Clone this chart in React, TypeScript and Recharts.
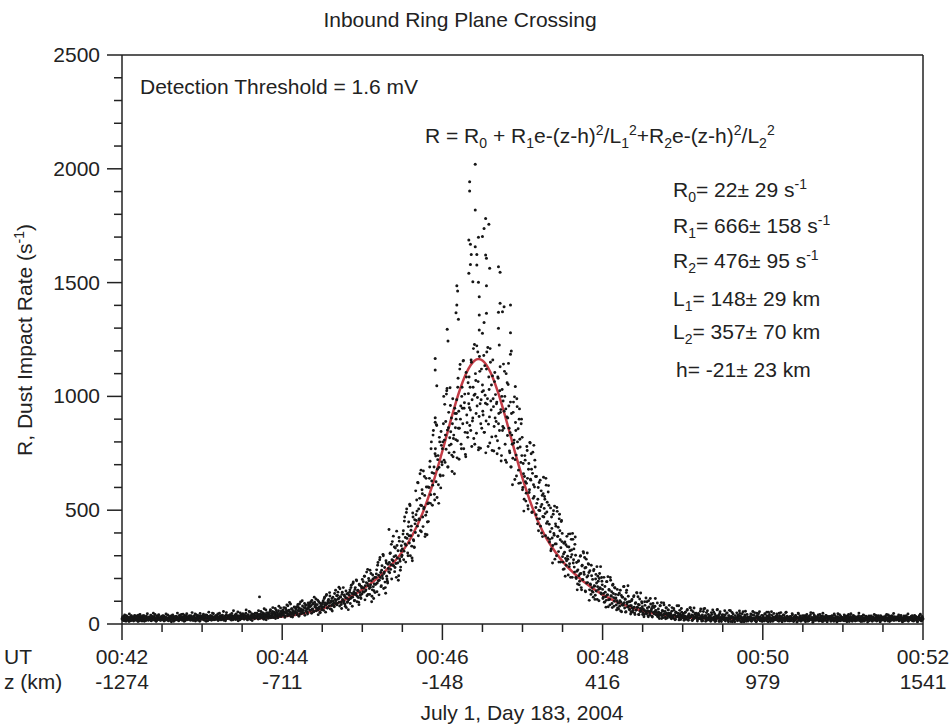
import { ComposedChart, Scatter, Line, XAxis, YAxis } from "recharts";

const FONT = '"Liberation Sans", Arial, Helvetica, sans-serif';
const INK = "#222";
const DOT = "#161616";
const FIT_RED = "#c43c46";

// UT in minutes after 00:00, rate samples every 0.5 s (second set sits 0.25 s later)
const startMinute = 42;
const samplesPerMinute = 120;

// impact rate (s^-1), one row = 10 s of samples
const rateRows: number[][] = [
  [22, 31, 15, 27, 40, 19, 12, 34, 25, 18, 29, 44, 21, 14, 36, 26, 17, 30, 23, 38],
  [28, 16, 35, 21, 11, 33, 25, 42, 19, 27, 13, 31, 24, 37, 20, 29, 15, 26, 45, 22],
  [18, 30, 24, 39, 14, 27, 21, 47, 33, 17, 26, 12, 35, 23, 29, 41, 19, 28, 16, 32],
  [25, 36, 20, 13, 31, 27, 44, 18, 24, 38, 15, 29, 22, 34, 10, 26, 40, 21, 30, 17],
  [33, 19, 27, 48, 23, 14, 36, 28, 21, 42, 17, 31, 25, 12, 38, 24, 29, 45, 20, 26],
  [21, 37, 28, 16, 32, 50, 24, 19, 35, 27, 13, 41, 23, 30, 18, 34, 26, 46, 22, 29],
  [30, 24, 43, 18, 35, 27, 12, 39, 25, 31, 52, 20, 28, 36, 16, 33, 23, 45, 27, 19],
  [26, 38, 21, 33, 15, 29, 47, 24, 36, 19, 31, 27, 55, 22, 34, 14, 40, 28, 25, 37],
  [34, 22, 41, 28, 17, 36, 30, 58, 25, 33, 20, 44, 29, 37, 14, 31, 26, 49, 35, 23],
  [29, 45, 33, 21, 38, 27, 62, 35, 18, 41, 31, 24, 52, 36, 28, 15, 43, 32, 39, 26],
  [37, 28, 48, 34, 22, 42, 119, 31, 55, 39, 26, 45, 33, 67, 29, 40, 19, 50, 36, 44],
  [41, 33, 57, 27, 46, 38, 72, 30, 52, 44, 24, 61, 36, 49, 31, 78, 43, 35, 55, 39],
  [45, 62, 38, 53, 29, 70, 48, 84, 36, 58, 42, 95, 51, 33, 66, 47, 56, 40, 75, 49],
  [52, 68, 41, 77, 58, 34, 88, 55, 64, 46, 102, 60, 50, 72, 38, 81, 57, 66, 44, 93],
  [84, 61, 77, 98, 47, 65, 90, 54, 118, 75, 86, 58, 71, 105, 41, 67, 93, 49, 80, 62],
  [74, 96, 60, 112, 83, 52, 125, 89, 70, 104, 93, 138, 66, 100, 81, 57, 118, 91, 76, 108],
  [148, 106, 84, 125, 110, 162, 79, 120, 96, 68, 140, 104, 92, 128, 88, 115, 72, 132, 98, 63],
  [108, 140, 90, 160, 118, 78, 178, 130, 102, 152, 134, 194, 98, 146, 116, 85, 170, 126, 112, 158],
  [196, 142, 158, 210, 106, 146, 182, 124, 240, 168, 190, 130, 162, 222, 98, 150, 198, 112, 176, 138],
  [175, 220, 142, 258, 190, 128, 282, 204, 164, 236, 212, 306, 156, 228, 184, 135, 268, 198, 180, 244],
  [415, 225, 312, 260, 198, 362, 278, 256, 338, 248, 300, 205, 345, 268, 192, 380, 286, 236, 322, 296],
  [330, 395, 282, 452, 352, 272, 490, 376, 312, 428, 388, 526, 300, 412, 342, 278, 470, 366, 336, 440],
  [585, 455, 496, 622, 388, 462, 552, 410, 676, 520, 572, 428, 506, 648, 384, 478, 602, 392, 528, 450],
  [600, 690, 530, 770, 628, 522, 830, 662, 570, 748, 738, 876, 556, 722, 612, 688, 800, 650, 846, 712],
  [770, 652, 1000, 808, 710, 890, 1010, 1035, 690, 862, 752, 818, 960, 790, 742, 880, 735, 830, 660, 925],
  [810, 925, 730, 1040, 860, 724, 1120, 900, 790, 1000, 948, 1155, 770, 972, 842, 735, 1085, 884, 820, 1012],
  [1085, 872, 940, 1160, 780, 892, 1040, 815, 1228, 1010, 1070, 838, 958, 1195, 765, 912, 1110, 772, 985, 860],
  [1050, 918, 1180, 842, 1005, 752, 1120, 965, 1215, 878, 1030, 795, 1150, 940, 822, 1090, 990, 760, 1065, 905],
  [825, 968, 748, 1085, 880, 772, 1025, 930, 716, 1000, 850, 980, 860, 1110, 790, 945, 710, 1060, 905, 1145],
  [860, 752, 975, 690, 830, 612, 930, 795, 998, 722, 850, 650, 955, 772, 676, 900, 812, 620, 880, 740],
  [590, 705, 496, 648, 720, 540, 618, 762, 520, 680, 578, 798, 636, 748, 490, 662, 552, 785, 602, 690],
  [512, 648, 462, 548, 410, 622, 498, 430, 585, 525, 384, 572, 470, 560, 485, 640, 442, 535, 378, 608],
  [438, 372, 510, 330, 420, 268, 482, 398, 518, 352, 430, 300, 495, 386, 318, 462, 410, 272, 450, 362],
  [296, 240, 355, 315, 210, 348, 278, 340, 285, 395, 252, 322, 205, 372, 305, 398, 268, 330, 228, 382],
  [205, 270, 150, 238, 278, 172, 220, 300, 160, 255, 196, 318, 228, 292, 145, 248, 180, 312, 212, 262],
  [104, 234, 172, 258, 145, 196, 118, 240, 166, 126, 218, 180, 108, 210, 152, 200, 160, 252, 132, 188],
  [152, 118, 205, 96, 140, 74, 186, 128, 208, 106, 148, 84, 192, 122, 90, 170, 134, 78, 160, 112],
  [114, 62, 152, 92, 66, 135, 102, 57, 125, 84, 118, 88, 165, 70, 108, 54, 148, 96, 168, 78],
  [64, 98, 44, 80, 108, 52, 70, 124, 48, 90, 60, 138, 74, 120, 42, 84, 55, 136, 66, 92],
  [42, 66, 32, 98, 58, 114, 46, 70, 36, 102, 55, 40, 88, 62, 34, 78, 50, 72, 52, 112],
  [58, 40, 92, 32, 52, 24, 80, 45, 94, 36, 56, 28, 84, 43, 30, 70, 48, 26, 62, 38],
  [82, 30, 46, 23, 72, 35, 25, 60, 40, 21, 52, 31, 48, 33, 80, 26, 44, 20, 68, 37],
  [27, 46, 16, 35, 52, 21, 30, 64, 19, 40, 26, 72, 32, 60, 17, 38, 22, 70, 28, 42],
  [48, 31, 13, 42, 24, 38, 25, 66, 20, 34, 14, 55, 29, 68, 23, 36, 16, 58, 27, 18],
  [23, 35, 12, 50, 27, 62, 18, 31, 44, 21, 14, 33, 64, 25, 39, 16, 54, 29, 11, 22],
  [41, 20, 31, 58, 13, 27, 47, 22, 17, 37, 60, 24, 11, 33, 51, 15, 29, 21, 10, 25],
  [26, 49, 14, 31, 21, 57, 35, 11, 24, 45, 19, 28, 10, 40, 56, 23, 16, 30, 13, 20],
  [18, 30, 44, 12, 25, 55, 22, 38, 15, 27, 10, 47, 34, 20, 29, 54, 14, 23, 19, 11],
  [37, 21, 13, 45, 28, 19, 52, 24, 10, 33, 42, 15, 26, 54, 20, 12, 29, 22, 18, 31],
  [24, 44, 17, 28, 12, 36, 21, 50, 32, 10, 25, 19, 40, 13, 27, 52, 22, 14, 30, 18],
  [20, 33, 14, 27, 45, 22, 11, 30, 18, 38, 25, 9, 29, 48, 16, 23, 35, 12, 26, 19],
  [28, 17, 36, 23, 10, 31, 42, 20, 26, 14, 33, 21, 50, 18, 27, 8, 24, 39, 15, 30],
  [16, 29, 22, 40, 13, 27, 19, 34, 24, 11, 47, 21, 30, 17, 25, 36, 12, 28, 20, 23],
  [33, 21, 12, 28, 37, 18, 25, 44, 15, 29, 22, 9, 32, 19, 26, 41, 14, 24, 30, 17],
  [19, 27, 40, 14, 23, 31, 10, 25, 36, 20, 28, 16, 45, 22, 12, 29, 18, 34, 24, 21],
  [25, 15, 30, 22, 48, 17, 26, 11, 33, 20, 27, 38, 13, 24, 19, 31, 23, 9, 28, 35],
  [22, 34, 18, 26, 12, 29, 21, 42, 16, 25, 30, 14, 23, 37, 19, 27, 10, 32, 20, 24],
  [30, 19, 24, 13, 35, 22, 27, 17, 40, 21, 11, 28, 25, 16, 33, 20, 46, 23, 18, 26],
  [17, 26, 32, 21, 14, 28, 23, 38, 19, 10, 27, 24, 31, 15, 22, 36, 20, 29, 12, 25],
  [24, 20, 29, 16, 37, 23, 13, 27, 21, 33, 18, 25, 11, 30, 22, 19, 43, 26, 15, 28],
];
const lastRate = 22;

// the quarter-second samples in between
const rateRowsQ: number[][] = [
  [26, 19, 33, 14, 28, 22, 37, 17, 24, 30, 11, 27, 20, 35, 16, 25, 31, 13, 29, 21],
  [23, 30, 17, 26, 39, 20, 14, 28, 33, 22, 18, 36, 25, 12, 29, 21, 34, 19, 27, 16],
  [31, 20, 27, 15, 34, 24, 18, 29, 22, 42, 26, 13, 30, 19, 37, 23, 28, 16, 25, 33],
  [19, 28, 35, 23, 16, 30, 21, 26, 40, 14, 27, 32, 18, 24, 36, 20, 29, 12, 31, 22],
  [27, 34, 20, 29, 16, 25, 39, 22, 31, 18, 26, 43, 21, 30, 14, 28, 35, 19, 24, 32],
  [30, 18, 26, 36, 22, 28, 15, 33, 20, 44, 25, 29, 17, 38, 24, 31, 12, 27, 35, 21],
  [22, 35, 28, 17, 31, 40, 24, 29, 14, 33, 26, 20, 37, 23, 30, 48, 19, 27, 32, 25],
  [33, 24, 30, 44, 20, 27, 35, 18, 29, 23, 39, 26, 16, 32, 28, 21, 50, 25, 34, 30],
  [27, 38, 23, 31, 46, 26, 19, 34, 29, 40, 24, 32, 21, 53, 28, 35, 18, 30, 42, 25],
  [36, 28, 41, 24, 33, 47, 30, 22, 38, 27, 55, 31, 20, 35, 44, 26, 33, 39, 23, 48],
  [31, 46, 26, 39, 58, 33, 24, 43, 35, 28, 50, 38, 21, 45, 32, 62, 29, 41, 36, 25],
  [50, 36, 63, 31, 44, 55, 28, 47, 39, 68, 34, 52, 42, 27, 58, 37, 46, 70, 33, 49],
  [57, 43, 72, 50, 35, 64, 55, 46, 80, 39, 61, 52, 88, 44, 67, 31, 58, 48, 73, 54],
  [63, 75, 49, 86, 60, 70, 43, 97, 66, 55, 79, 62, 48, 90, 71, 58, 84, 52, 68, 76],
  [73, 92, 59, 81, 103, 66, 88, 55, 96, 78, 110, 69, 85, 62, 99, 74, 52, 90, 80, 68],
  [88, 102, 75, 118, 92, 84, 130, 70, 97, 108, 80, 123, 94, 65, 112, 86, 100, 78, 134, 90],
  [102, 124, 90, 140, 112, 96, 155, 118, 86, 130, 108, 160, 100, 122, 78, 145, 114, 95, 135, 106],
  [126, 150, 112, 170, 134, 118, 185, 142, 104, 160, 128, 190, 122, 148, 96, 175, 138, 116, 165, 132],
  [160, 186, 140, 210, 168, 150, 228, 178, 130, 200, 156, 236, 172, 190, 122, 215, 164, 146, 204, 174],
  [205, 238, 180, 270, 214, 192, 292, 226, 168, 256, 200, 300, 222, 248, 160, 278, 210, 188, 262, 230],
  [270, 310, 240, 350, 282, 258, 386, 296, 230, 334, 266, 408, 290, 322, 212, 364, 276, 250, 344, 302],
  [362, 410, 320, 470, 380, 346, 505, 395, 300, 448, 356, 520, 388, 430, 290, 488, 370, 338, 458, 402],
  [480, 545, 430, 620, 505, 458, 660, 522, 405, 590, 470, 672, 512, 565, 395, 640, 492, 448, 602, 532],
  [640, 715, 568, 800, 665, 610, 850, 690, 545, 770, 625, 872, 680, 740, 530, 820, 655, 598, 785, 700],
  [800, 880, 720, 965, 830, 768, 1025, 852, 690, 930, 785, 1038, 845, 905, 670, 990, 815, 755, 948, 862],
  [900, 985, 805, 1080, 935, 860, 1140, 958, 770, 1040, 880, 1158, 948, 1010, 745, 1105, 918, 840, 1060, 968],
  [950, 1040, 850, 1150, 985, 905, 1210, 1005, 790, 1100, 925, 1222, 995, 1065, 775, 1175, 968, 880, 1120, 1020],
  [935, 1025, 842, 1135, 970, 892, 1195, 990, 780, 1085, 910, 1210, 980, 1050, 762, 1160, 955, 868, 1105, 1008],
  [890, 975, 805, 1080, 925, 850, 1130, 942, 740, 1030, 868, 1142, 935, 1000, 720, 1100, 910, 828, 1052, 958],
  [760, 840, 690, 925, 790, 728, 975, 808, 635, 885, 742, 990, 800, 858, 618, 945, 778, 710, 900, 820],
  [600, 660, 548, 740, 625, 575, 780, 640, 505, 705, 590, 795, 632, 680, 492, 755, 612, 560, 720, 648],
  [480, 530, 440, 600, 500, 462, 632, 515, 400, 565, 472, 645, 508, 548, 388, 610, 492, 450, 580, 522],
  [360, 405, 322, 470, 378, 345, 498, 390, 285, 440, 352, 512, 384, 425, 272, 482, 370, 335, 455, 398],
  [272, 308, 242, 360, 288, 258, 385, 298, 215, 338, 265, 396, 294, 325, 205, 372, 282, 250, 350, 302],
  [200, 232, 176, 275, 212, 188, 298, 222, 150, 258, 194, 312, 218, 246, 142, 285, 206, 182, 265, 226],
  [150, 176, 130, 212, 160, 140, 234, 168, 108, 198, 145, 252, 164, 188, 102, 222, 156, 136, 204, 172],
  [112, 134, 96, 165, 120, 104, 186, 128, 76, 152, 108, 204, 124, 142, 72, 175, 116, 100, 158, 130],
  [84, 102, 70, 128, 92, 78, 148, 96, 54, 118, 82, 164, 94, 110, 52, 138, 88, 74, 122, 98],
  [64, 80, 54, 102, 70, 60, 120, 74, 42, 94, 62, 136, 72, 86, 41, 110, 68, 56, 98, 76],
  [50, 62, 42, 82, 55, 46, 98, 58, 32, 75, 48, 112, 56, 68, 31, 90, 52, 44, 78, 60],
  [40, 50, 33, 66, 44, 37, 80, 47, 24, 60, 39, 92, 45, 55, 23, 72, 42, 35, 62, 48],
  [33, 42, 27, 56, 36, 30, 68, 39, 19, 50, 32, 80, 37, 46, 18, 60, 35, 29, 52, 40],
  [29, 37, 23, 50, 31, 26, 60, 34, 16, 44, 28, 70, 33, 40, 15, 54, 30, 25, 46, 35],
  [26, 34, 21, 46, 28, 24, 56, 31, 13, 40, 25, 66, 30, 37, 12, 50, 27, 22, 42, 32],
  [24, 31, 19, 42, 26, 22, 52, 29, 11, 37, 23, 62, 28, 34, 11, 46, 25, 20, 39, 30],
  [23, 30, 18, 40, 25, 21, 49, 27, 10, 35, 22, 58, 26, 32, 10, 44, 24, 19, 37, 28],
  [28, 21, 39, 24, 17, 46, 26, 32, 10, 22, 54, 29, 19, 35, 25, 12, 42, 23, 30, 20],
  [20, 33, 25, 16, 40, 27, 22, 50, 18, 29, 12, 36, 24, 45, 21, 31, 14, 26, 38, 23],
  [31, 18, 26, 43, 22, 14, 35, 27, 52, 20, 29, 11, 24, 38, 17, 30, 46, 21, 25, 33],
  [22, 36, 15, 28, 47, 24, 19, 32, 12, 26, 40, 21, 30, 16, 50, 25, 34, 18, 27, 13],
  [27, 16, 32, 21, 40, 24, 13, 29, 19, 35, 23, 10, 28, 44, 18, 26, 31, 15, 22, 37],
  [19, 30, 24, 14, 36, 22, 27, 12, 33, 25, 18, 41, 21, 29, 16, 47, 23, 34, 20, 26],
  [32, 23, 18, 29, 25, 42, 15, 27, 21, 35, 12, 30, 24, 19, 38, 26, 10, 33, 22, 28],
  [21, 27, 34, 16, 30, 23, 12, 38, 25, 19, 31, 26, 45, 14, 28, 20, 35, 17, 24, 29],
  [26, 14, 30, 21, 35, 25, 18, 28, 42, 11, 24, 33, 20, 27, 16, 38, 23, 29, 13, 31],
  [18, 29, 23, 36, 15, 27, 32, 20, 25, 12, 40, 22, 28, 17, 34, 24, 19, 30, 26, 14],
  [29, 20, 35, 15, 25, 31, 18, 27, 23, 38, 13, 26, 33, 21, 28, 11, 36, 24, 17, 30],
  [23, 31, 16, 27, 21, 42, 25, 13, 30, 19, 34, 24, 18, 37, 22, 28, 15, 32, 26, 20],
  [30, 22, 27, 40, 18, 25, 33, 15, 28, 23, 12, 35, 26, 20, 31, 17, 24, 44, 21, 29],
  [20, 27, 34, 22, 14, 29, 25, 38, 17, 31, 23, 10, 28, 24, 36, 19, 26, 13, 33, 22],
];

// isolated high counts near the crossing: [UT minute, rate]
const spikes: [number, number][] = [
  [45.91, 1167], [45.91, 1116], [45.93, 1047], [45.91, 906], [45.91, 886],
  [46.06, 1295], [46.07, 1243],
  [46.17, 1368], [46.18, 1402], [46.18, 1486], [46.19, 1463], [46.2, 1339],
  [46.33, 1687], [46.33, 1541], [46.34, 1943], [46.34, 1902], [46.35, 1668],
  [46.35, 1580], [46.36, 1624], [46.38, 1504],
  [46.41, 2020], [46.41, 1819], [46.41, 1658], [46.43, 1624], [46.43, 1577],
  [46.45, 1699], [46.45, 1501], [46.46, 1438], [46.46, 1358], [46.46, 1292],
  [46.5, 1702], [46.5, 1277], [46.52, 1738], [46.52, 1325], [46.54, 1782],
  [46.54, 1621], [46.55, 1607], [46.55, 1486], [46.55, 1365], [46.58, 1756],
  [46.59, 1563], [46.7, 1570], [46.7, 1370], [46.7, 1299], [46.71, 1226],
  [46.72, 1545], [46.72, 1409], [46.75, 1372], [46.77, 1394], [46.85, 1402],
  [46.85, 1280], [46.85, 1185], [46.86, 1200], [46.91, 1043],
];

// fitted double-gaussian curve
const fitT = [42, 43, 43.5, 44, 44.5, 44.75, 45, 45.25, 45.375, 45.5, 45.625, 45.75, 45.875, 46, 46.1, 46.2, 46.3, 46.4, 46.45, 46.5, 46.6, 46.7, 46.8, 46.9, 47, 47.125, 47.25, 47.375, 47.5, 47.75, 48, 48.25, 48.5, 49, 49.5, 50, 52];
const fitR = [22, 22, 24, 33, 67, 101, 151, 220, 264, 318, 390, 485, 610, 760, 889, 1010, 1104, 1157, 1164, 1158, 1106, 1012, 892, 763, 641, 510, 408, 334, 275, 190, 129, 86, 57, 30, 24, 22, 22];

const xTicks = [42, 42.5, 43, 43.5, 44, 44.5, 45, 45.5, 46, 46.5, 47, 47.5, 48, 48.5, 49, 49.5, 50, 50.5, 51, 51.5, 52];
const majorTimes = [42, 44, 46, 48, 50, 52];
const utLabels = ["00:42", "00:44", "00:46", "00:48", "00:50", "00:52"];
const zLabels = ["-1274", "-711", "-148", "416", "979", "1541"];

const yTicks = [0, 100, 200, 300, 400, 500, 600, 700, 800, 900, 1000, 1100, 1200, 1300, 1400, 1500, 1600, 1700, 1800, 1900, 2000, 2100, 2200, 2300, 2400, 2500];
const yMajor = [0, 500, 1000, 1500, 2000, 2500];

const bandData = [
  ...[...rateRows.flat(), lastRate].map((r, i) => ({ t: startMinute + i / samplesPerMinute, r })),
  ...rateRowsQ.flat().map((r, i) => ({ t: startMinute + (i + 0.5) / samplesPerMinute, r })),
];
const spikeData = spikes.map(([t, r]) => ({ t, r }));
const fitData = fitT.map((t, i) => ({ t, r: fitR[i] }));

const labelStyle = { fontFamily: FONT, fontSize: 21, fill: INK };

function BottomTick({ x, y, payload }: any) {
  const i = majorTimes.indexOf(payload.value);
  return (
    <g>
      <line x1={x} x2={x} y1={y} y2={y + (i >= 0 ? 16 : 8)} stroke={INK} strokeWidth={1.5} />
      {i >= 0 && (
        <>
          <text x={x} y={y + 40} textAnchor="middle" style={labelStyle}>{utLabels[i]}</text>
          <text x={x} y={y + 65} textAnchor="middle" style={labelStyle}>{zLabels[i]}</text>
        </>
      )}
    </g>
  );
}

function TopTick({ x, y, payload }: any) {
  const major = majorTimes.includes(payload.value);
  return <line x1={x} x2={x} y1={y} y2={y - (major ? 17 : 10)} stroke={INK} strokeWidth={1.5} />;
}

function LeftTick({ x, y, payload }: any) {
  const major = yMajor.includes(payload.value);
  return (
    <g>
      <line x1={x} x2={x - (major ? 15 : 8)} y1={y} y2={y} stroke={INK} strokeWidth={1.5} />
      {major && (
        <text x={x - 22} y={y + 7} textAnchor="end" style={labelStyle}>{payload.value}</text>
      )}
    </g>
  );
}

function RightTick({ x, y, payload }: any) {
  const major = yMajor.includes(payload.value);
  return <line x1={x} x2={x + (major ? 16 : 8)} y1={y} y2={y} stroke={INK} strokeWidth={1.5} />;
}

// text with sub (1) and superscript (-1) pieces
type Part = [string, number];
function Rich({ parts, ...rest }: any) {
  let shift = 0;
  return (
    <text {...rest}>
      {(parts as Part[]).map(([s, k], i) => {
        const target = k === 1 ? 5 : k === -1 ? -8 : 0;
        const dy = target - shift;
        shift = target;
        return (
          <tspan key={i} dy={dy} fontSize={k ? 14 : undefined}>{s}</tspan>
        );
      })}
    </text>
  );
}

const formula: Part[] = [
  ["R = R", 0], ["0", 1], [" + R", 0], ["1", 1], ["e-(z-h)", 0], ["2", -1], ["/L", 0], ["1", 1], ["2", -1],
  ["+R", 0], ["2", 1], ["e-(z-h)", 0], ["2", -1], ["/L", 0], ["2", 1], ["2", -1],
];
const params: Part[][] = [
  [["R", 0], ["0", 1], ["= 22\u00b1 29 s", 0], ["-1", -1]],
  [["R", 0], ["1", 1], ["= 666\u00b1 158 s", 0], ["-1", -1]],
  [["R", 0], ["2", 1], ["= 476\u00b1 95 s", 0], ["-1", -1]],
  [["L", 0], ["1", 1], ["= 148\u00b1 29 km", 0]],
  [["L", 0], ["2", 1], ["= 357\u00b1 70 km", 0]],
  [["h= -21\u00b1 23 km", 0]],
];
const paramBaselines = [197, 233, 268, 306, 339, 377];

const axisLine = { stroke: INK, strokeWidth: 1.5 };

export default function App() {
  return (
    <div style={{ position: "relative", width: 952, height: 726 }}>
      <style>{"body { margin: 0; }"}</style>
      <ComposedChart width={952} height={726} margin={{ top: 0, right: 0, bottom: 0, left: 0 }}>
        <XAxis xAxisId="b" type="number" dataKey="t" domain={[42, 52]} ticks={xTicks} interval={0}
          tickSize={0} tickMargin={0} tickLine={false} tick={BottomTick} height={102} axisLine={axisLine} />
        <XAxis xAxisId="t" orientation="top" type="number" dataKey="t" domain={[42, 52]} ticks={xTicks} interval={0}
          tickSize={0} tickMargin={0} tickLine={false} tick={TopTick} height={55} axisLine={axisLine} />
        <YAxis yAxisId="l" type="number" dataKey="r" domain={[0, 2500]} ticks={yTicks} interval={0}
          tickSize={0} tickMargin={0} tickLine={false} tick={LeftTick} width={122} axisLine={axisLine} />
        <YAxis yAxisId="r" orientation="right" type="number" dataKey="r" domain={[0, 2500]} ticks={yTicks} interval={0}
          tickSize={0} tickMargin={0} tickLine={false} tick={RightTick} width={29} axisLine={axisLine} />
        <Scatter xAxisId="b" yAxisId="l" data={bandData} isAnimationActive={false}
          shape={(p: any) => <circle cx={p.cx} cy={p.cy} r={1.45} fill={DOT} />} />
        <Scatter xAxisId="b" yAxisId="l" data={spikeData} isAnimationActive={false}
          shape={(p: any) => <circle cx={p.cx} cy={p.cy} r={1.5} fill={DOT} />} />
        <Line xAxisId="b" yAxisId="l" data={fitData} dataKey="r" type="monotone" stroke={FIT_RED}
          strokeWidth={2.5} dot={false} activeDot={false} isAnimationActive={false} />
      </ComposedChart>
      <svg width={952} height={726}
        style={{ position: "absolute", left: 0, top: 0, pointerEvents: "none" }}
        fontFamily={FONT} fontSize={21} fill={INK}>
        <text x={460} y={27} textAnchor="middle">Inbound Ring Plane Crossing</text>
        <text x={140} y={94}>Detection Threshold = 1.6 mV</text>
        <Rich x={425} y={143} parts={formula} />
        {params.map((p, i) => (
          <Rich key={i} x={i === 5 ? 676 : 673} y={paramBaselines[i]} parts={p} />
        ))}
        <Rich transform="translate(32,340) rotate(-90)" x={0} y={0} textAnchor="middle"
          parts={[["R, Dust Impact Rate (s", 0], ["-1", -1], [")", 0]]} />
        <text x={4} y={664}>UT</text>
        <text x={4} y={689}>z (km)</text>
        <text x={522} y={720} textAnchor="middle">July 1, Day 183, 2004</text>
      </svg>
    </div>
  );
}
